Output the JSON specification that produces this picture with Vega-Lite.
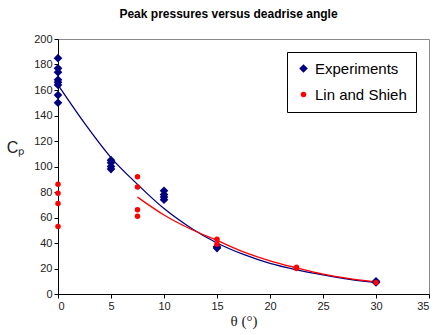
{
  "$schema": "https://vega.github.io/schema/vega-lite/v6.json",
  "width": 371,
  "height": 255,
  "autosize": {"type": "none"},
  "padding": {"left": 58, "top": 39, "right": 4, "bottom": 41},
  "background": "white",
  "title": {"text": "Peak pressures versus deadrise angle", "font": "Liberation Sans", "fontSize": 12, "fontWeight": "bold", "color": "black", "anchor": "middle", "dx": -15, "offset": 12},
  "config": {
    "view": {"stroke": "#888888", "strokeWidth": 1},
    "axis": {"grid": false, "domainColor": "black", "tickColor": "black", "labelFont": "Liberation Sans", "labelFontSize": 11, "labelColor": "#222222", "tickSize": 4}
  },
  "datasets": {
    "pts": [
      {"series": "Experiments", "theta": 0, "cp": 185},
      {"series": "Experiments", "theta": 0, "cp": 177},
      {"series": "Experiments", "theta": 0, "cp": 174},
      {"series": "Experiments", "theta": 0, "cp": 168},
      {"series": "Experiments", "theta": 0, "cp": 166},
      {"series": "Experiments", "theta": 0, "cp": 164},
      {"series": "Experiments", "theta": 0, "cp": 156},
      {"series": "Experiments", "theta": 0, "cp": 150},
      {"series": "Experiments", "theta": 5, "cp": 105},
      {"series": "Experiments", "theta": 5, "cp": 103},
      {"series": "Experiments", "theta": 5, "cp": 100},
      {"series": "Experiments", "theta": 5, "cp": 98},
      {"series": "Experiments", "theta": 10, "cp": 81},
      {"series": "Experiments", "theta": 10, "cp": 78},
      {"series": "Experiments", "theta": 10, "cp": 76},
      {"series": "Experiments", "theta": 10, "cp": 74},
      {"series": "Experiments", "theta": 15, "cp": 37},
      {"series": "Experiments", "theta": 15, "cp": 36},
      {"series": "Experiments", "theta": 30, "cp": 10},
      {"series": "Experiments", "theta": 30, "cp": 9},
      {"series": "Lin and Shieh", "theta": 0, "cp": 86},
      {"series": "Lin and Shieh", "theta": 0, "cp": 79},
      {"series": "Lin and Shieh", "theta": 0, "cp": 71},
      {"series": "Lin and Shieh", "theta": 0, "cp": 53},
      {"series": "Lin and Shieh", "theta": 7.5, "cp": 92},
      {"series": "Lin and Shieh", "theta": 7.5, "cp": 84},
      {"series": "Lin and Shieh", "theta": 7.5, "cp": 66},
      {"series": "Lin and Shieh", "theta": 7.5, "cp": 61},
      {"series": "Lin and Shieh", "theta": 15, "cp": 43},
      {"series": "Lin and Shieh", "theta": 15, "cp": 39},
      {"series": "Lin and Shieh", "theta": 22.5, "cp": 21},
      {"series": "Lin and Shieh", "theta": 22.5, "cp": 20},
      {"series": "Lin and Shieh", "theta": 30, "cp": 9}
    ],
    "fitExp": [
      {"theta": 0, "cp": 164}, {"theta": 2.5, "cp": 134}, {"theta": 5, "cp": 107},
      {"theta": 7.5, "cp": 86}, {"theta": 10, "cp": 67}, {"theta": 12.5, "cp": 52},
      {"theta": 15, "cp": 40}, {"theta": 17.5, "cp": 31}, {"theta": 20, "cp": 24},
      {"theta": 22.5, "cp": 19}, {"theta": 25, "cp": 15}, {"theta": 27.5, "cp": 11.5},
      {"theta": 30, "cp": 9}
    ],
    "fitLin": [
      {"theta": 7.5, "cp": 76}, {"theta": 10, "cp": 62}, {"theta": 12.5, "cp": 51},
      {"theta": 15, "cp": 42}, {"theta": 17.5, "cp": 33}, {"theta": 20, "cp": 26},
      {"theta": 22.5, "cp": 20.5}, {"theta": 25, "cp": 15.5}, {"theta": 27.5, "cp": 12},
      {"theta": 30, "cp": 9.5}
    ]
  },
  "encoding": {
    "x": {"field": "theta", "type": "quantitative", "scale": {"domain": [0, 35], "nice": false},
          "axis": {"values": [0, 5, 10, 15, 20, 25, 30, 35], "title": "θ (°)", "titleFont": "Liberation Serif", "titleFontSize": 15, "titleFontWeight": "normal", "titleColor": "#222222", "titlePadding": 2}},
    "y": {"field": "cp", "type": "quantitative", "scale": {"domain": [0, 200], "nice": false},
          "axis": {"values": [0, 20, 40, 60, 80, 100, 120, 140, 160, 180, 200], "title": "Cₚ", "titleFont": "Liberation Sans", "titleFontSize": 16, "titleFontWeight": "normal", "titleColor": "#222222", "titleAngle": 0, "titleAlign": "center", "titleBaseline": "middle", "titleX": -43, "titleY": 108}}
  },
  "layer": [
    {
      "data": {"name": "fitExp"},
      "mark": {"type": "line", "color": "#000080", "strokeWidth": 1.3, "interpolate": "monotone"}
    },
    {
      "data": {"name": "fitLin"},
      "mark": {"type": "line", "color": "#FF0000", "strokeWidth": 1.3, "interpolate": "monotone"}
    },
    {
      "data": {"name": "pts"},
      "mark": {"type": "point", "filled": true, "opacity": 1},
      "encoding": {
        "color": {"field": "series", "type": "nominal", "scale": {"domain": ["Experiments", "Lin and Shieh"], "range": ["#000080", "#FF0000"]},
                  "legend": {"title": null, "orient": "none", "legendX": 229, "legendY": 13, "fillColor": "white", "strokeColor": "black", "padding": 9, "labelFont": "Liberation Sans", "labelFontSize": 15, "labelColor": "black", "rowPadding": 10, "symbolSize": 50, "labelLimit": 200}},
        "shape": {"field": "series", "type": "nominal", "scale": {"domain": ["Experiments", "Lin and Shieh"], "range": ["diamond", "circle"]}},
        "size": {"field": "series", "type": "nominal", "scale": {"domain": ["Experiments", "Lin and Shieh"], "range": [75, 30]}, "legend": null}
      }
    }
  ]
}
